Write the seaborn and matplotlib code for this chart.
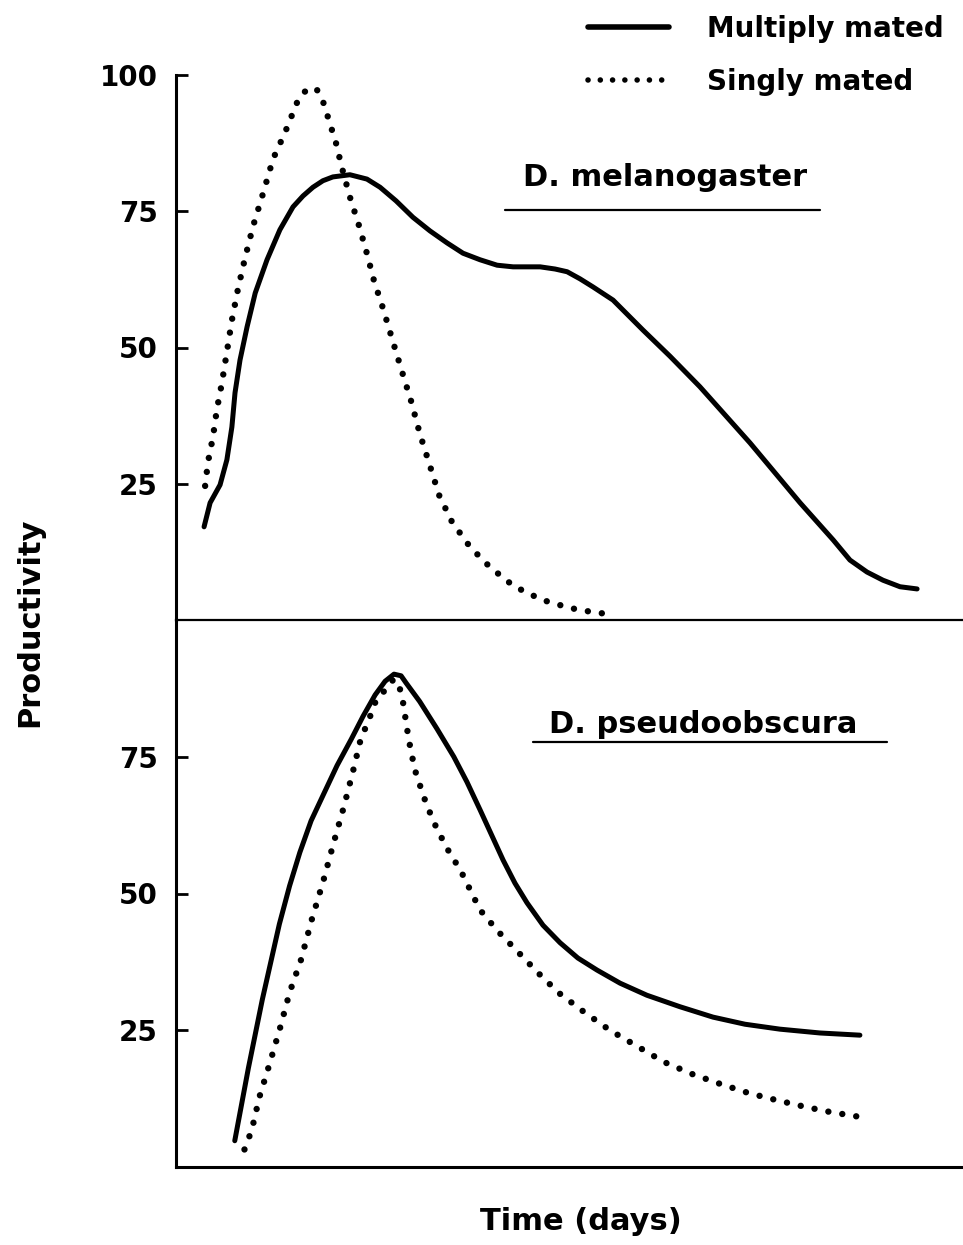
import matplotlib
matplotlib.use("Agg")
import matplotlib.pyplot as plt
from matplotlib.lines import Line2D
import seaborn as sns
import pandas as pd

# ---------------- data ----------------
mel_multi_day = [1.07, 1.30, 1.68, 1.94, 2.13, 2.25, 2.44, 2.71, 3.02, 3.47, 3.96, 4.46, 4.84,
                 5.22, 5.60, 5.98, 6.63, 7.28, 7.78, 8.39, 9.03, 9.68, 10.33, 10.94, 11.59,
                 12.24, 12.85, 13.88, 14.45, 14.91, 15.40, 15.90, 16.66, 17.80, 18.83, 19.97,
                 21.88, 23.79, 25.05, 25.69, 26.34, 26.95, 27.60, 28.25]
mel_multi_val = [17.1, 21.5, 24.8, 29.4, 35.4, 41.7, 47.7, 53.8, 60.0, 66.1, 71.6, 75.8, 77.8,
                 79.4, 80.6, 81.3, 81.7, 80.9, 79.4, 76.9, 73.9, 71.4, 69.2, 67.3, 66.1,
                 65.1, 64.8, 64.8, 64.4, 63.9, 62.6, 61.1, 58.7, 53.2, 48.4, 42.8,
                 32.5, 21.5, 14.7, 11.0, 8.8, 7.3, 6.1, 5.7]

mel_single_day = [1.11, 1.22, 1.41, 1.56, 1.75, 1.94, 2.13, 2.36, 2.63, 2.94, 3.32, 3.70, 4.16,
                  4.61, 4.88, 5.34, 5.60, 5.79, 6.10, 6.33, 6.63, 6.98, 7.28, 7.55, 7.89, 8.23,
                  8.62, 8.96, 9.30, 9.68, 10.03, 10.52, 11.21, 11.97, 12.88, 13.95, 15.02,
                  16.05, 16.62]
mel_single_val = [24.6, 29.0, 33.6, 38.7, 43.5, 49.2, 55.0, 60.7, 66.4, 72.3, 78.3, 84.6, 89.5,
                  94.9, 96.9, 97.6, 95.2, 92.3, 87.5, 82.9, 77.6, 72.3, 67.2, 62.2, 57.2, 51.7,
                  45.5, 40.2, 34.1, 28.3, 22.9, 18.0, 13.4, 9.7, 6.2, 3.7, 2.2,
                  1.3, 1.1]

pse_multi_day = [2.24, 2.76, 3.29, 3.94, 4.33, 4.72, 5.15, 5.63, 6.14, 6.68, 7.13, 7.59, 7.97,
                 8.31, 8.58, 8.77, 9.29, 9.95, 10.59, 11.09, 11.59, 12.47, 12.92, 13.38, 13.99,
                 14.64, 15.32, 16.05, 16.93, 17.95, 19.21, 20.47, 21.69, 23.02, 24.55, 26.07]
pse_multi_val = [4.8, 18.1, 30.6, 44.4, 51.4, 57.5, 63.3, 68.2, 73.4, 78.2, 82.4, 86.3, 88.8,
                 90.1, 89.8, 88.5, 85.1, 80.1, 75.0, 70.4, 65.3, 56.1, 51.9, 48.3, 44.2,
                 41.0, 38.2, 36.0, 33.6, 31.4, 29.3, 27.4, 26.1, 25.2, 24.5, 24.1]

pse_single_day = [2.61, 2.89, 3.18, 3.57, 3.96, 4.33, 4.76, 5.18, 5.61, 6.00, 6.39, 6.74, 7.07,
                  7.27, 7.60, 8.30, 8.51, 8.64, 8.87, 9.10, 9.45, 9.81, 10.30, 10.86, 11.59,
                  12.27, 13.08, 13.80, 14.60, 15.51, 16.54, 17.57, 18.60, 19.67, 20.74, 21.84,
                  22.91, 23.98, 24.89, 25.88, 26.34]
pse_single_val = [3.2, 6.8, 12.8, 18.9, 25.3, 31.9, 37.8, 45.3, 52.2, 59.1, 65.7, 72.2, 78.8,
                  80.7, 85.0, 89.2, 87.9, 85.4, 78.2, 72.7, 67.6, 63.2, 58.5, 54.1, 47.0,
                  43.1, 39.1, 35.5, 31.8, 28.5, 25.0, 22.1, 19.2, 17.0, 15.2, 13.5,
                  12.2, 11.0, 10.1, 9.3, 9.0]

series_labels = ["Multiply mated", "Singly mated"]
species = ["D. melanogaster", "D. pseudoobscura"]
top_ticks = [25, 50, 75, 100]
bottom_ticks = [25, 50, 75]

# ---------------- style ----------------
sns.set_style("ticks")
plt.rcParams["font.family"] = ["DejaVu Sans"]
plt.rcParams["font.weight"] = "bold"
plt.rcParams["text.color"] = "black"
plt.rcParams["axes.labelcolor"] = "black"
plt.rcParams["axes.edgecolor"] = "black"
plt.rcParams["ytick.color"] = "black"

W, H = 963, 1245
fig = plt.figure(figsize=(W / 100, H / 100), dpi=100)

left = 176 / W
ax1 = fig.add_axes([left, 1 - 620 / H, 1 - left, 545 / H])
ax2 = fig.add_axes([left, 1 - 1167 / H, 1 - left, 547 / H])

DOT = (0, (0.01, 2.2))
SOLID_LW = 3.6
DOT_LW = 4.6


def draw(ax, d_m, v_m, d_s, v_s):
    dfm = pd.DataFrame({"day": d_m, "val": v_m})
    dfs = pd.DataFrame({"day": d_s, "val": v_s})
    sns.lineplot(data=dfm, x="day", y="val", ax=ax, color="black", lw=SOLID_LW,
                 sort=False, estimator=None, solid_capstyle="round", solid_joinstyle="round")
    sns.lineplot(data=dfs, x="day", y="val", ax=ax, color="black", lw=DOT_LW,
                 sort=False, estimator=None)
    ln = ax.lines[-1]
    ln.set_linestyle(DOT)
    ln.set_dash_capstyle("round")


draw(ax1, mel_multi_day, mel_multi_val, mel_single_day, mel_single_val)
draw(ax2, pse_multi_day, pse_multi_val, pse_single_day, pse_single_val)

for ax, ticks in ((ax1, top_ticks), (ax2, bottom_ticks)):
    ax.set_xlim(0, 30)
    ax.set_ylim(0, 100)
    ax.set_xticks([])
    ax.set_yticks(ticks)
    ax.set_yticklabels([str(t) for t in ticks])
    ax.tick_params(axis="y", direction="in", length=8.6, width=2.0, labelsize=20, pad=13,
                   colors="black")
    ax.set_xlabel("")
    ax.set_ylabel("")
    for s in ("top", "right"):
        ax.spines[s].set_visible(False)
    ax.spines["left"].set_linewidth(2.2)
    ax.spines["left"].set_color("black")
    ax.spines["bottom"].set_color("black")
    ax.patch.set_alpha(0)

ax1.spines["bottom"].set_linewidth(1.6)
ax2.spines["bottom"].set_linewidth(2.2)

# species titles with underline
fig.text(665 / W, 1 - 186 / H, species[0], ha="center", va="baseline", fontsize=22,
         fontweight="bold", color="black")
fig.add_artist(Line2D([505 / W, 820 / W], [1 - 210 / H] * 2, transform=fig.transFigure,
                      color="black", lw=1.6))
fig.text(703 / W, 1 - 733 / H, species[1], ha="center", va="baseline", fontsize=22,
         fontweight="bold", color="black")
fig.add_artist(Line2D([533 / W, 887 / W], [1 - 742 / H] * 2, transform=fig.transFigure,
                      color="black", lw=1.6))

# axis labels
fig.text(30 / W, 1 - 622 / H, "Productivity", rotation=90, ha="center", va="center",
         fontsize=22, fontweight="bold", color="black")
fig.text(581 / W, 1 - 1222 / H, "Time (days)", ha="center", va="center", fontsize=22,
         fontweight="bold", color="black")

# legend
h_solid = Line2D([], [], color="black", lw=SOLID_LW + 0.4, solid_capstyle="round")
h_dot = Line2D([], [], color="black", lw=DOT_LW - 0.6, linestyle=DOT, dash_capstyle="round")
leg = fig.legend([h_solid, h_dot], series_labels, loc="upper left",
                 bbox_to_anchor=(588 / W, 1 - 15 / H), frameon=False,
                 prop={"size": 20, "weight": "bold"}, handlelength=2.9, handletextpad=1.4,
                 labelspacing=0.9, borderpad=0, borderaxespad=0)
for t in leg.get_texts():
    t.set_color("black")

fig.savefig("out.png", dpi=100)
